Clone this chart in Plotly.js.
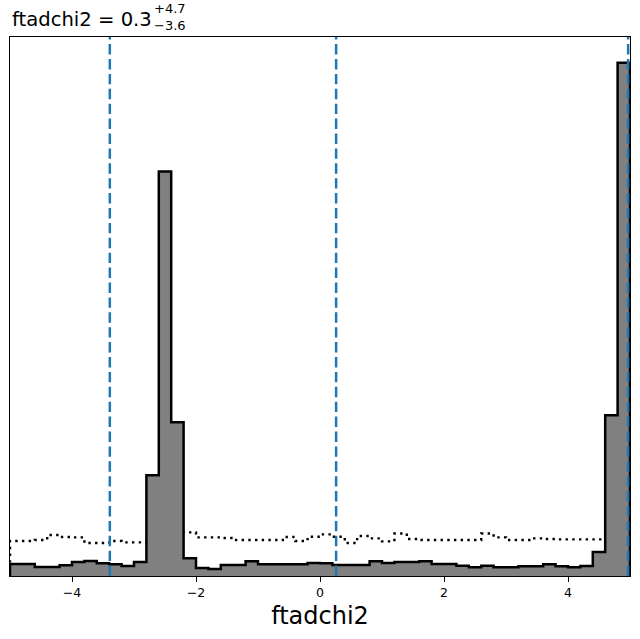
<!DOCTYPE html>
<html>
<head>
<meta charset="utf-8">
<script src="https://cdn.plot.ly/plotly-3.0.1.min.js"></script>
<style>html,body{margin:0;padding:0;background:#fff;}#chart{width:640px;height:639px;}</style>
</head>
<body>
<div id="chart"></div>
<script>
// ---- data ----
const paramName = "ftadchi2";
const binStart = -5.0;
const binWidth = 0.2;
const posteriorHist = [12, 12, 9, 9, 10.7, 14, 15, 12.7, 11.7, 10,
  14, 101, 405, 154, 17.7, 8, 7, 11, 11, 14.7,
  11.7, 11.7, 11.7, 11.7, 13, 12.7, 11, 11, 11, 14.7,
  13, 14, 14, 14.7, 12, 12, 10.3, 8.7, 10.3, 8.7,
  8.7, 9.7, 9.7, 11.7, 9.7, 8.7, 10, 24, 161, 514];
const priorHist = [35, 35, 36, 41, 39, 38.7, 33, 33, 35, 33.7,
  33.7, 37, 41, 43.7, 43.7, 38.7, 38.7, 38, 36, 36,
  36, 36, 39, 35, 39.3, 41.7, 39.3, 33, 40, 37.7,
  34.7, 42.5, 37, 36, 36, 36, 36, 36, 42.5, 38.7,
  36, 36, 37.7, 37, 36.7, 36.7, 36.7, 36.7, 36.7, 36.7];
const quantiles = [-3.39, 0.26, 4.97];   // 16%, 50%, 84%
const titleMedian = "0.3";
const titlePlus = "+4.7";
const titleMinus = "\u22123.6";
const xTicks = [-4, -2, 0, 2, 4];
const xRange = [-5, 5];

// ---- build step outlines ----
function stepXY(h) {
  const xs = [binStart], ys = [0];
  for (let i = 0; i < h.length; i++) { xs.push(binStart + i * binWidth); ys.push(h[i]); }
  const end = binStart + h.length * binWidth;
  xs.push(end); ys.push(h[h.length - 1]);
  xs.push(end); ys.push(0);
  return {xs, ys};
}
const post = stepXY(posteriorHist);
const pri = stepXY(priorHist);
const ymax = Math.max(...posteriorHist, ...priorHist) * 1.05;

const font = "DejaVu Sans, sans-serif";

const traces = [
  {x: pri.xs, y: pri.ys, type: 'scatter', mode: 'lines', line: {shape: 'hv', color: 'black', width: 2.4, dash: '2.4px,4.3px'}, hoverinfo: 'skip', showlegend: false},
  {x: post.xs, y: post.ys, type: 'scatter', mode: 'lines', fill: 'tozeroy', fillcolor: '#808080', line: {shape: 'hv', color: 'black', width: 2.5}, hoverinfo: 'skip', showlegend: false}
];

const shapes = quantiles.map(q => ({type: 'line', xref: 'x', yref: 'paper', x0: q, x1: q, y0: 0, y1: 1, line: {color: '#1f77b4', width: 2.5, dash: '10.4px,4.5px'}}));

const ph = 539, pw = 620;
function py(pix) { return 1 + (37 - pix) / ph; }
const annotations = [
  {xref: 'paper', yref: 'paper', x: 0, y: py(19.8), xanchor: 'left', yanchor: 'middle', showarrow: false, text: paramName + " = " + titleMedian, font: {family: font, size: 19.6, color: 'black'}},
  {xref: 'paper', yref: 'paper', x: (153 - 10) / pw, y: py(9), xanchor: 'left', yanchor: 'middle', showarrow: false, borderpad: 0, text: titlePlus, font: {family: font, size: 13, color: 'black'}},
  {xref: 'paper', yref: 'paper', x: (153 - 10) / pw, y: py(25.5), xanchor: 'left', yanchor: 'middle', showarrow: false, borderpad: 0, text: titleMinus, font: {family: font, size: 13, color: 'black'}}
];

const layout = {
  width: 640, height: 639,
  margin: {l: 10, r: 10, t: 37, b: 63, pad: 0},
  paper_bgcolor: 'white', plot_bgcolor: 'white',
  showlegend: false,
  xaxis: {range: xRange, tickvals: xTicks, ticks: 'outside', ticklen: 5, tickwidth: 1, tickcolor: 'black',
    showgrid: false, zeroline: false, showline: true, mirror: true, linecolor: 'black', linewidth: 1,
    tickfont: {family: font, size: 12.5, color: 'black'},
    title: {text: paramName, font: {family: font, size: 24, color: 'black'}, standoff: 8}},
  yaxis: {range: [0, ymax], showticklabels: false, ticks: '', showgrid: false, zeroline: false,
    showline: true, mirror: true, linecolor: 'black', linewidth: 1},
  shapes: shapes,
  annotations: annotations
};

Plotly.newPlot('chart', traces, layout, {displayModeBar: false, staticPlot: true});
</script>
</body>
</html>
